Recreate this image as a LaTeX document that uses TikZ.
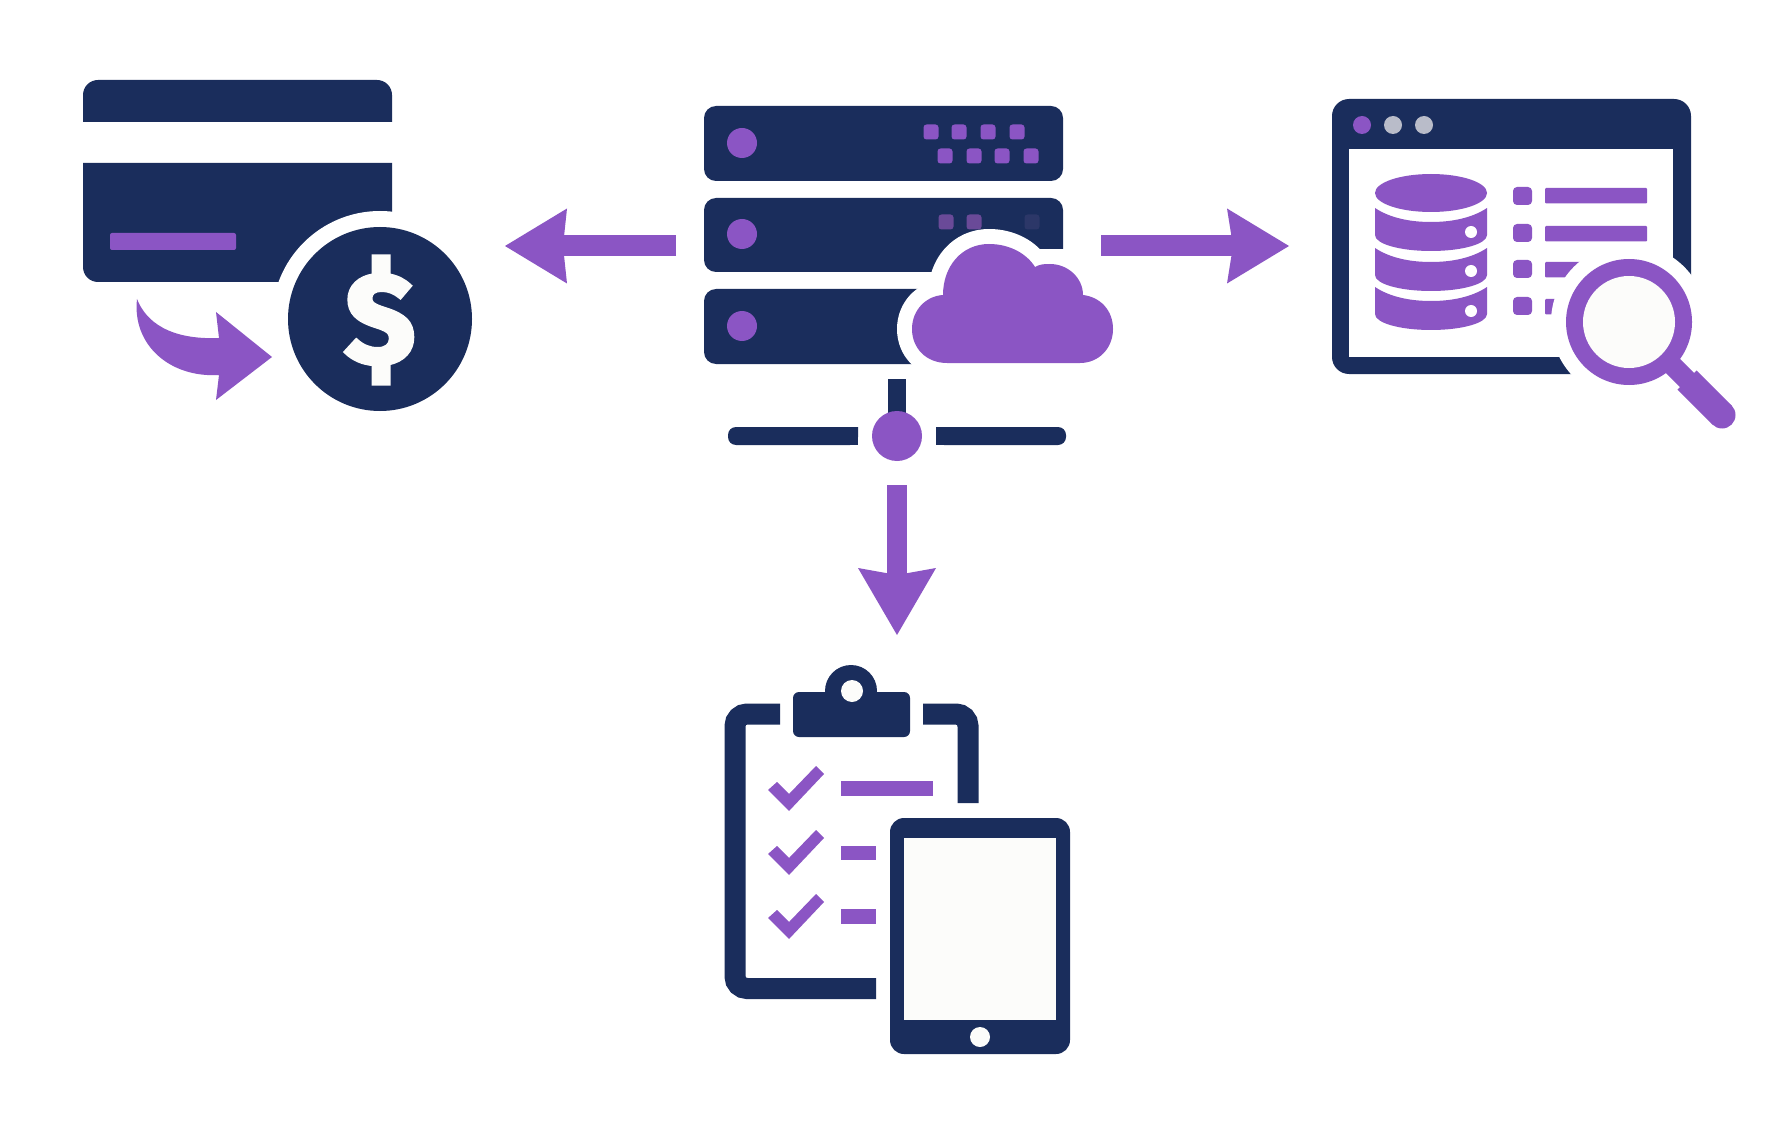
\documentclass[tikz,border=0pt]{standalone}
\usepackage{fontspec}
\newfontfamily\coinfont[BoldFeatures={FakeBold=3.5}]{Fira Sans}
\usetikzlibrary{arrows.meta}
\definecolor{navy}{HTML}{1A2D5C}
\definecolor{violet}{HTML}{8B55C4}
\definecolor{dimviolet}{HTML}{6A4A98}
\definecolor{faintviolet}{HTML}{2C3768}
\definecolor{paleviolet}{HTML}{B9BCC9}
\definecolor{paper}{HTML}{FCFCFA}
\tikzset{
  navyfill/.style={fill=navy},
  violetfill/.style={fill=violet},
  gap/.style={fill=white},
  led/.style={fill=violet,rounded corners=3pt},
  flowleft/.style={draw=violet,line width=21pt,-{Stealth[length=62pt,width=75pt,inset=4pt,line width=0pt]}},
  flowright/.style={draw=violet,line width=21pt,-{Stealth[length=62pt,width=75pt,inset=6pt,line width=0pt]}},
  flowdown/.style={draw=violet,line width=20pt,-{Stealth[length=67pt,width=78pt,inset=7pt,line width=0pt]}},
  frame/.style={draw=navy,line width=21pt,rounded corners=12pt}
}
\newcommand{\cloudpath}{(947,363) .. controls (926,363) and (912,348) .. (912,329)
  .. controls (912,310) and (926,296) .. (943,295)
  .. controls (943,266) and (962,244) .. (989,244)
  .. controls (1010,244) and (1027,254) .. (1035,267)
  .. controls (1040,264) and (1045,264) .. (1050,264)
  .. controls (1068,264) and (1083,278) .. (1083,295)
  .. controls (1100,297) and (1113,310) .. (1113,329)
  .. controls (1113,348) and (1099,363) .. (1080,363) -- cycle}
\newcommand{\discform}[2]{%
  \fill[violetfill] (1375,#1) .. controls (1390,#1+10) and (1410,#1+14) .. (1431,#1+14)
    .. controls (1452,#1+14) and (1472,#1+10) .. (1487,#1)
    -- (1487,#2) .. controls (1487,#2+9) and (1462,#2+16) .. (1431,#2+16)
    .. controls (1400,#2+16) and (1375,#2+9) .. (1375,#2) -- cycle;
}
\begin{document}
\begin{tikzpicture}[x=1pt,y=-1pt]
\useasboundingbox (0,0) rectangle (1790,1139);
\fill[white] (0,0) rectangle (1790,1139);

% card with coin
\fill[navyfill] (83,122) [rounded corners=15pt] -- (83,80) -- (392,80) [sharp corners] -- (392,122) -- cycle;
\fill[navyfill] (392,163) -- (83,163) [rounded corners=15pt] -- (83,282) [sharp corners] -- (392,282) -- cycle;
\fill[violetfill,rounded corners=2pt] (110,233) rectangle (236,250);
\fill[gap] (380,319) circle (108);
\fill[navyfill] (380,319) circle (92);
\node[text=paper,font=\fontsize{128}{128}\coinfont\bfseries,inner sep=0pt] (dollar) at (380,320) {\$};
\fill[violetfill] (137,299) .. controls (146,322) and (170,340) .. (219,338)
  -- (216,312) -- (272,357) -- (216,400) -- (219,375)
  .. controls (170,378) and (132,345) .. (137,299) -- cycle;

% server
\foreach \ya/\yb in {106/181,198/272,289/364}
  \fill[navyfill,rounded corners=12pt] (704,\ya) rectangle (1063,\yb);
\foreach \yc in {143,234,326}
  \fill[violetfill] (742,\yc) circle (15);
\foreach \xc in {931,959,988,1017}
  \fill[led] (\xc-7.5,124.5) rectangle (\xc+7.5,139.5);
\foreach \xc in {945,974,1002,1031}
  \fill[led] (\xc-7.5,148.5) rectangle (\xc+7.5,163.5);
\foreach \xc in {946,974}
  \fill[dimviolet,rounded corners=3pt] (\xc-7.5,214.5) rectangle (\xc+7.5,229.5);
\fill[faintviolet,rounded corners=3pt] (1024.5,214.5) rectangle (1039.5,229.5);
\filldraw[fill=white,draw=white,line width=30pt,line join=round] \cloudpath;
\fill[gap] (1040,249) rectangle (1070,372);
\fill[violetfill] \cloudpath;

% network tap
\fill[navyfill] (888,379) rectangle (906,415);
\fill[navyfill,rounded corners=8pt] (858,427) -- (728,427) -- (728,445) -- (858,445) [sharp corners] -- cycle;
\fill[navyfill] (858,427) rectangle (850,445);
\fill[navyfill,rounded corners=8pt] (936,427) -- (1066,427) -- (1066,445) -- (936,445) [sharp corners] -- cycle;
\fill[navyfill] (936,427) rectangle (944,445);
\fill[violetfill] (897,436) circle (25);

% browser window
\fill[navyfill,rounded corners=17pt] (1332,99) rectangle (1691,374);
\fill[gap] (1349,149) rectangle (1673,357);
\fill[violetfill] (1362,125) circle (9);
\fill[paleviolet] (1393,125) circle (9);
\fill[paleviolet] (1424,125) circle (9);
\fill[violetfill] (1431,193) ellipse (56 and 19);
\discform{208}{235}
\discform{248}{275}
\discform{287}{314}
\foreach \yd in {232,271,311}
  \fill[gap] (1471,\yd) circle (6);
\foreach \ye in {196,233,269,306}
  \fill[violetfill,rounded corners=4pt] (1513,\ye-9) rectangle (1532,\ye+9);
\foreach \yf in {188,226,262,299}
  \fill[violetfill,rounded corners=1pt] (1545,\yf) rectangle (1647,\yf+15.5);
\fill[gap] (1629,322) circle (78);
\fill[gap] (1629,322) rectangle (1696,380);
\draw[violet,line width=20pt] (1670,363) -- (1690,383);
\draw[violet,line width=27pt] (1687,380) -- (1722,415);
\fill[violetfill] (1722,415) circle (13.5);
\fill[violetfill] (1629,322) circle (63);
\fill[paper] (1629,322) circle (46);

% clipboard
\draw[frame] (780,714) -- (735,714) -- (735,988.5) -- (876,988.5);
\draw[frame] (923,714) -- (968,714) -- (968,803);
\fill[navyfill] (851,691) circle (26);
\fill[navyfill,rounded corners=6pt] (793,692) rectangle (910,737);
\fill[paper] (852,691) circle (11);
\foreach \dy in {0,64,128}
  \fill[violetfill] (768,790+\dy) -- (777,782+\dy) -- (789,794+\dy) -- (816,766+\dy) -- (824,774+\dy) -- (789,811+\dy) -- cycle;
\fill[violetfill] (841,781) rectangle (933,796);
\fill[violetfill] (841,846) rectangle (876,860);
\fill[violetfill] (841,909) rectangle (876,924);

% tablet
\fill[navyfill,rounded corners=14pt] (890,818) rectangle (1070,1054);
\fill[paper] (904,838) rectangle (1056,1020);
\fill[paper] (980,1037) circle (10);

% connectors
\coordinate (srvW) at (676,246);
\coordinate (cardE) at (505,246);
\coordinate (srvE) at (1101,246);
\coordinate (browserW) at (1289,246);
\coordinate (tapS) at (897,485);
\coordinate (clipN) at (897,635);
\draw[flowleft] (srvW) -- (cardE);
\draw[flowright] (srvE) -- (browserW);
\draw[flowdown] (tapS) -- (clipN);
\end{tikzpicture}
\end{document}
